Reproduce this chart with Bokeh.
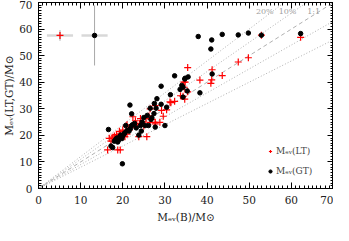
from bokeh.plotting import figure
from bokeh.models import Range1d, LinearAxis, SingleIntervalTicker, Legend, LegendItem
from bokeh.core.properties import value
from bokeh.embed import file_html
from bokeh.resources import INLINE

# M_ev(LT) vs M_ev(B)
lt_x = [16.4, 18.8, 19.4, 16.8, 17.2, 17.5, 18.0, 18.5, 19.0, 19.5, 20.0, 20.5, 21.0, 21.5,
        22.0, 22.4, 22.8, 23.3, 23.8, 24.2, 24.8, 25.5, 25.7, 26.2, 26.5, 26.5, 27.7, 27.7,
        27.7, 28.8, 29.2, 29.6, 30.4, 31.2, 31.4, 32.3, 33.7, 34.3, 34.6, 34.7, 34.5, 34.8,
        35.4, 35.4, 38.3, 40.9, 41.1, 41.2, 43.6, 47.4, 49.8, 52.9, 62.2, 23.0, 20.0, 21.0,
        24.0, 18.2, 19.2, 20.8, 22.6, 25.0, 26.8]
lt_y = [14.5, 14.5, 14.5, 18.9, 17.8, 19.3, 19.8, 20.3, 19.0, 20.8, 20.0, 19.5, 20.5, 22.0,
        23.0, 27.0, 23.7, 24.2, 19.5, 26.3, 25.0, 26.3, 19.5, 27.3, 30.0, 24.9, 24.9, 31.2,
        24.3, 24.9, 29.4, 27.2, 29.6, 32.6, 32.3, 32.8, 34.9, 34.7, 38.1, 33.6, 40.0, 40.0,
        36.4, 45.5, 40.8, 39.6, 40.9, 44.7, 42.5, 47.6, 49.2, 57.7, 56.9, 25.5, 22.0, 24.0,
        24.5, 18.5, 21.5, 23.5, 24.0, 23.5, 26.0]

# M_ev(GT) vs M_ev(B)
gt_x = [16.6, 19.9, 17.2, 17.6, 18.0, 18.3, 18.6, 18.8, 19.0, 19.3, 19.5, 19.8, 20.0, 20.3,
        20.7, 20.5, 21.0, 21.5, 21.8, 22.0, 22.3, 22.1, 21.7, 22.8, 23.2, 23.8, 24.2, 24.4,
        24.6, 25.0, 25.3, 26.1, 25.8, 26.5, 26.7, 26.9, 27.4, 27.5, 27.7, 27.9, 28.1, 29.1,
        29.1, 30.0, 30.4, 31.3, 32.3, 33.6, 34.0, 34.3, 34.3, 34.7, 34.8, 35.3, 35.5, 38.3,
        37.9, 40.9, 41.1, 41.2, 43.6, 47.4, 49.8, 52.9, 62.2]
gt_y = [22.2, 9.3, 16.0, 15.4, 17.8, 18.5, 19.0, 17.5, 18.2, 19.5, 20.1, 18.8, 19.8, 20.5,
        23.7, 21.0, 21.8, 21.6, 22.5, 23.5, 24.0, 28.1, 31.4, 24.5, 22.8, 20.1, 23.7, 21.6,
        25.0, 26.7, 23.7, 23.7, 27.5, 30.2, 26.0, 26.6, 28.2, 32.0, 23.1, 30.2, 33.8, 31.7,
        38.5, 23.7, 30.6, 35.3, 42.4, 37.3, 38.8, 38.1, 34.4, 41.2, 41.5, 36.7, 42.0, 36.0,
        57.2, 52.5, 55.9, 43.1, 58.0, 57.8, 58.5, 57.7, 58.3]

# typical error bars
err_lt = {"x": [5.1], "y": [57.6], "xerr": [3.1], "yerr": [2.0]}
err_gt = {"x": [13.3], "y": [57.6], "xerr": [3.1], "yerr": [11.3]}

# reference lines: slopes and labels
line_slopes = [1.2, 1.1, 1.0, 0.9, 0.8]
line_dashes = ["1 2", "1 2", "4 3", "1 2", "1 2"]
line_labels = ["20%", "10%", "1:1"]
label_x = [53.7, 59.1, 65.3]
label_y = [66.8, 66.8, 66.8]

SERIF = "DejaVu Serif"

p = figure(width=333, height=225, output_backend="svg", toolbar_location=None,
           x_range=Range1d(0, 70), y_range=Range1d(0, 70),
           min_border_left=33, min_border_right=0, min_border_top=2, min_border_bottom=36)
p.grid.visible = False
p.outline_line_color = "black"
p.background_fill_color = "white"
p.border_fill_color = "white"

for k, d in zip(line_slopes, line_dashes):
    p.line([0, 70], [0, 70 * k], line_color="#b0b0b0", line_width=1, line_dash=d)

p.text(label_x, label_y, text=line_labels, text_font=value(SERIF), text_font_size="8px",
       text_color="#a0a0a0", text_align="center", text_baseline="middle")

# error bars
for e in (err_lt, err_gt):
    p.segment([e["x"][0] - e["xerr"][0]], e["y"], [e["x"][0] + e["xerr"][0]], e["y"],
              line_color="#d8d8d8", line_width=2.5)
    p.segment(e["x"], [e["y"][0] - e["yerr"][0]], e["x"], [e["y"][0] + e["yerr"][0]],
              line_color="#a8a8a8", line_width=1)
p.scatter(err_lt["x"], err_lt["y"], marker="cross", size=7, line_color="red", line_width=1.2)
p.scatter(err_gt["x"], err_gt["y"], marker="circle", size=4.5, fill_color="black", line_color="black")

r_lt = p.scatter(lt_x, lt_y, marker="cross", size=7, line_color="red", line_width=1.2)
r_gt = p.scatter(gt_x, gt_y, marker="circle", size=4.5, fill_color="black", line_color="black")

legend = Legend(items=[LegendItem(label="Mₑᵥ(LT)", renderers=[r_lt]),
                       LegendItem(label="Mₑᵥ(GT)", renderers=[r_gt])],
                location=(228, 11), background_fill_alpha=0, border_line_color=None,
                glyph_width=8, glyph_height=8, label_text_font=SERIF, label_text_font_size="9px",
                label_standoff=2, spacing=8, padding=2, margin=0, label_height=12)
p.add_layout(legend)

def style_axis(ax, labels=True):
    ax.ticker = SingleIntervalTicker(interval=10, num_minor_ticks=10)
    ax.major_tick_in = 6
    ax.major_tick_out = 0
    ax.minor_tick_in = 3
    ax.minor_tick_out = 0
    ax.axis_line_color = "black"
    ax.major_tick_line_color = "black"
    ax.minor_tick_line_color = "black"
    ax.major_label_text_font = SERIF
    if labels:
        ax.major_label_text_font_size = "10.5px"
        ax.major_label_text_color = "#222222"
        ax.major_label_standoff = 7
    else:
        ax.major_label_text_font_size = "1px"
        ax.major_label_text_color = None
        ax.major_label_standoff = 0
    ax.axis_label_text_font = SERIF
    ax.axis_label_text_font_size = "10.5px"
    ax.axis_label_text_font_style = "normal"
    ax.axis_label_text_color = "#222222"

style_axis(p.xaxis[0])
style_axis(p.yaxis[0])
p.xaxis[0].axis_label = "Mₑᵥ(B)/M⊙"
p.yaxis[0].axis_label = "Mₑᵥ(LT,GT)/M⊙"
p.xaxis[0].axis_label_standoff = 4
p.yaxis[0].axis_label_standoff = 1
p.yaxis[0].major_label_standoff = 6

top = LinearAxis()
right = LinearAxis()
style_axis(top, labels=False)
style_axis(right, labels=False)
p.add_layout(top, "above")
p.add_layout(right, "right")

open("out.html", "w").write(file_html(p, INLINE))
